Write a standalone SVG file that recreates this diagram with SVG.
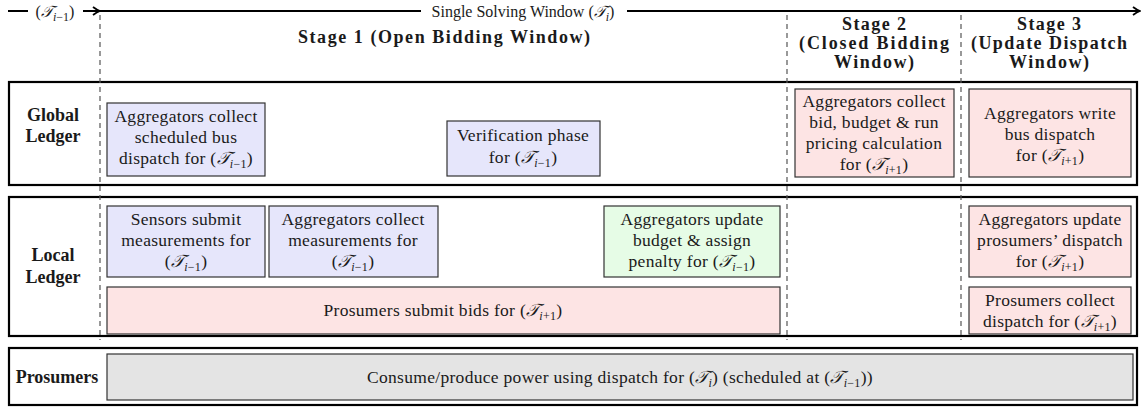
<svg xmlns="http://www.w3.org/2000/svg" width="1146" height="413" viewBox="0 0 1146 413">
<defs>
<style>
text{font-family:"Liberation Serif","DejaVu Serif",serif;fill:#1a1a1a;}
.t{font-size:17.5px;text-anchor:middle;letter-spacing:0.3px;}
.b{font-size:18px;font-weight:bold;text-anchor:middle;}
.h{font-size:18px;font-weight:bold;text-anchor:middle;}
.top{font-size:16px;text-anchor:middle;}
.sub{font-size:12px;}
.lane{fill:none;stroke:#000;stroke-width:2.2;}
.dash{stroke:#555;stroke-width:1.2;stroke-dasharray:5 4;fill:none;}
.node{stroke:#333;stroke-width:1.2;}
.blue{fill:#e6e6fb;}
.pink{fill:#fde4e4;}
.green{fill:#e6fce6;}
.gray{fill:#e4e4e4;}
.axis{stroke:#000;stroke-width:2;fill:none;}
</style>
<marker id="arr" viewBox="0 0 10 10" refX="9" refY="5" markerWidth="10" markerHeight="10" markerUnits="userSpaceOnUse" orient="auto">
<path d="M2,1 Q6,4 9,5 Q6,6 2,9" fill="none" stroke="#000" stroke-width="1.8"/>
</marker>
</defs>

<g id="timeline">
<line class="axis" x1="8" y1="11" x2="100" y2="11" marker-end="url(#arr)"/>
<rect x="28" y="0" width="55" height="22" fill="#fff"/>
<text class="top" x="55" y="17">(<tspan font-style="italic">𝒯</tspan><tspan class="sub" dy="4"><tspan font-style="italic">i</tspan>−1</tspan><tspan dy="-4">)</tspan></text>
<line class="axis" x1="100" y1="11" x2="1140" y2="11" marker-end="url(#arr)"/>
<rect x="421" y="0" width="206" height="22" fill="#fff"/>
<text class="top" x="523" y="17">Single Solving Window (<tspan font-style="italic">𝒯</tspan><tspan class="sub" dy="4" font-style="italic">i</tspan><tspan dy="-4">)</tspan></text>
</g>

<g id="headers">
<text class="h" x="444" y="43" textLength="292" lengthAdjust="spacing">Stage 1 (Open Bidding Window)</text>
<text class="h" x="874" y="30" textLength="64" lengthAdjust="spacing">Stage 2</text>
<text class="h" x="874" y="49" textLength="150" lengthAdjust="spacing">(Closed Bidding</text>
<text class="h" x="874" y="68" textLength="80" lengthAdjust="spacing">Window)</text>
<text class="h" x="1049" y="30" textLength="64" lengthAdjust="spacing">Stage 3</text>
<text class="h" x="1049" y="49" textLength="156" lengthAdjust="spacing">(Update Dispatch</text>
<text class="h" x="1049" y="68" textLength="80" lengthAdjust="spacing">Window)</text>
</g>

<g id="lanes">
<rect class="lane" x="9" y="82" width="1128" height="103"/>
<rect class="lane" x="9" y="197" width="1128" height="139"/>
<rect class="lane" x="9" y="348" width="1128" height="57"/>
<text class="b" x="53" y="121">Global</text>
<text class="b" x="53" y="142">Ledger</text>
<text class="b" x="53" y="261">Local</text>
<text class="b" x="53" y="283">Ledger</text>
<text class="b" x="57" y="383">Prosumers</text>
</g>

<g id="dividers">
<line class="dash" x1="100" y1="15" x2="100" y2="340"/>
<line class="dash" x1="787" y1="15" x2="787" y2="340"/>
<line class="dash" x1="961" y1="15" x2="961" y2="340"/>
</g>

<g id="nodes">
<g id="g-collect-bus">
<rect class="node blue" x="107" y="103" width="158" height="73"/>
<text class="t" x="186" y="122">Aggregators collect</text>
<text class="t" x="186" y="143">scheduled bus</text>
<text class="t" x="186" y="164">dispatch for (<tspan font-style="italic">𝒯</tspan><tspan class="sub" dy="4"><tspan font-style="italic">i</tspan>−1</tspan><tspan dy="-4">)</tspan></text>
</g>

<g id="g-verification">
<rect class="node blue" x="447" y="121" width="153" height="55"/>
<text class="t" x="523" y="141">Verification phase</text>
<text class="t" x="523" y="163">for (<tspan font-style="italic">𝒯</tspan><tspan class="sub" dy="4"><tspan font-style="italic">i</tspan>−1</tspan><tspan dy="-4">)</tspan></text>
</g>

<g id="g-pricing">
<rect class="node pink" x="795" y="89" width="159" height="88"/>
<text class="t" x="874" y="107">Aggregators collect</text>
<text class="t" x="874" y="128">bid, budget &amp; run</text>
<text class="t" x="874" y="149">pricing calculation</text>
<text class="t" x="874" y="170">for (<tspan font-style="italic">𝒯</tspan><tspan class="sub" dy="4"><tspan font-style="italic">i</tspan>+1</tspan><tspan dy="-4">)</tspan></text>
</g>

<g id="g-write-dispatch">
<rect class="node pink" x="969" y="89" width="162" height="88"/>
<text class="t" x="1050" y="119">Aggregators write</text>
<text class="t" x="1050" y="140">bus dispatch</text>
<text class="t" x="1050" y="161">for (<tspan font-style="italic">𝒯</tspan><tspan class="sub" dy="4"><tspan font-style="italic">i</tspan>+1</tspan><tspan dy="-4">)</tspan></text>
</g>

<g id="l-sensors">
<rect class="node blue" x="107" y="206" width="158" height="71"/>
<text class="t" x="186" y="225">Sensors submit</text>
<text class="t" x="186" y="246">measurements for</text>
<text class="t" x="186" y="267">(<tspan font-style="italic">𝒯</tspan><tspan class="sub" dy="4"><tspan font-style="italic">i</tspan>−1</tspan><tspan dy="-4">)</tspan></text>
</g>

<g id="l-collect-meas">
<rect class="node blue" x="269" y="206" width="169" height="71"/>
<text class="t" x="353" y="225">Aggregators collect</text>
<text class="t" x="353" y="246">measurements for</text>
<text class="t" x="353" y="267">(<tspan font-style="italic">𝒯</tspan><tspan class="sub" dy="4"><tspan font-style="italic">i</tspan>−1</tspan><tspan dy="-4">)</tspan></text>
</g>

<g id="l-budget">
<rect class="node green" x="604" y="206" width="176" height="71"/>
<text class="t" x="692" y="225">Aggregators update</text>
<text class="t" x="692" y="246">budget &amp; assign</text>
<text class="t" x="692" y="267">penalty for (<tspan font-style="italic">𝒯</tspan><tspan class="sub" dy="4"><tspan font-style="italic">i</tspan>−1</tspan><tspan dy="-4">)</tspan></text>
</g>

<g id="l-bids">
<rect class="node pink" x="107" y="287" width="673" height="47"/>
<text class="t" x="443" y="316">Prosumers submit bids for (<tspan font-style="italic">𝒯</tspan><tspan class="sub" dy="4"><tspan font-style="italic">i</tspan>+1</tspan><tspan dy="-4">)</tspan></text>
</g>

<g id="l-update-dispatch">
<rect class="node pink" x="969" y="206" width="162" height="71"/>
<text class="t" x="1050" y="225">Aggregators update</text>
<text class="t" x="1050" y="246">prosumers’ dispatch</text>
<text class="t" x="1050" y="267">for (<tspan font-style="italic">𝒯</tspan><tspan class="sub" dy="4"><tspan font-style="italic">i</tspan>+1</tspan><tspan dy="-4">)</tspan></text>
</g>

<g id="l-collect-dispatch">
<rect class="node pink" x="969" y="287" width="162" height="47"/>
<text class="t" x="1050" y="306">Prosumers collect</text>
<text class="t" x="1050" y="327">dispatch for (<tspan font-style="italic">𝒯</tspan><tspan class="sub" dy="4"><tspan font-style="italic">i</tspan>+1</tspan><tspan dy="-4">)</tspan></text>
</g>

<g id="p-consume">
<rect class="node gray" x="107" y="354" width="1026" height="46"/>
<text class="t" x="620" y="383">Consume/produce power using dispatch for (<tspan font-style="italic">𝒯</tspan><tspan class="sub" dy="4" font-style="italic">i</tspan><tspan dy="-4">) (scheduled at (</tspan><tspan font-style="italic">𝒯</tspan><tspan class="sub" dy="4"><tspan font-style="italic">i</tspan>−1</tspan><tspan dy="-4">))</tspan></text>
</g>
</g>
</svg>
